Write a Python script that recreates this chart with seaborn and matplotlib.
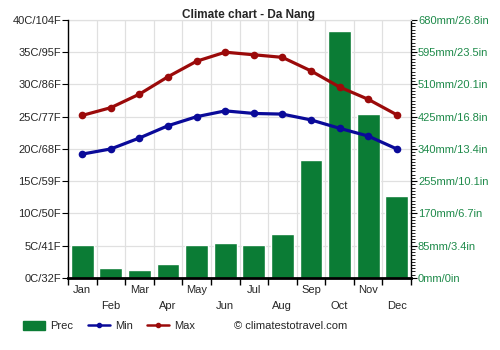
import numpy as np
import pandas as pd
import matplotlib
matplotlib.use("Agg")
import matplotlib.pyplot as plt
from matplotlib.patches import Patch
from matplotlib.lines import Line2D
import seaborn as sns

months = ["Jan", "Feb", "Mar", "Apr", "May", "Jun", "Jul", "Aug", "Sep", "Oct", "Nov", "Dec"]
prec = [88, 26, 20, 36, 86, 91, 86, 115, 310, 650, 431, 215]
tmin = [19.2, 20.0, 21.7, 23.6, 25.0, 25.9, 25.5, 25.4, 24.5, 23.2, 22.0, 20.0]
tmax = [25.2, 26.4, 28.5, 31.2, 33.6, 35.0, 34.6, 34.2, 32.1, 29.6, 27.7, 25.3]
temp_labels = ["0C/32F", "5C/41F", "10C/50F", "15C/59F", "20C/68F", "25C/77F", "30C/86F", "35C/95F", "40C/104F"]
prec_labels = ["0mm/0in", "85mm/3.4in", "170mm/6.7in", "255mm/10.1in", "340mm/13.4in",
               "425mm/16.8in", "510mm/20.1in", "595mm/23.5in", "680mm/26.8in"]

df = pd.DataFrame({"month": months, "idx": np.arange(len(months)), "prec": prec, "tmin": tmin, "tmax": tmax})

sns.set_theme(style="white")
plt.rcParams["font.family"] = ["Liberation Sans", "DejaVu Sans"]

BAR = "#0b7c35"
MAXC = "#9b0a0a"
MINC = "#0a0a99"
GREEN_TXT = "#1e8a4a"
GRID = "#e0e0e0"
FS = 8

fig = plt.figure(figsize=(5, 3.5), dpi=100)
ax_p = fig.add_axes([0.136, 0.206, 0.686, 0.737])
ax_t = ax_p.twinx()

# precipitation bars (behind)
sns.barplot(data=df, x="idx", y="prec", ax=ax_p, color=BAR, saturation=1, width=0.8, zorder=2)
ax_p.set_ylim(0, 680)
ax_p.set_xlim(-0.5, 11.5)
ax_p.yaxis.tick_right()
ax_p.yaxis.set_label_position("right")
ax_p.set_yticks(np.arange(0, 681, 85))
ax_p.set_yticklabels(prec_labels, color=GREEN_TXT, fontsize=FS)
ax_p.set_yticks(np.arange(0, 681, 8.5), minor=True)
ax_p.tick_params(axis="y", which="major", length=4, width=0.8, color="black", pad=1, right=True, left=False)
ax_p.tick_params(axis="y", which="minor", length=3, width=0.6, color="black", right=True, left=False)
ax_p.set_ylabel("")
ax_p.set_xlabel("")

# x ticks: labels at centres, tick marks at boundaries
ax_p.set_xticks(np.arange(12))
ax_p.set_xticklabels([m if i % 2 == 0 else "\n" + m for i, m in enumerate(months)], fontsize=FS)
for lab in ax_p.get_xticklabels():
    lab.set_linespacing(1.75)
ax_p.set_xticks(np.arange(-0.5, 12, 1), minor=True)
ax_p.tick_params(axis="x", which="major", length=0, pad=5)
ax_p.tick_params(axis="x", which="minor", length=5, width=1, color="black", bottom=True)
ax_p.grid(False)

for xb in np.arange(0.5, 11.5, 1):
    ax_p.axvline(xb, color=GRID, linewidth=0.9, zorder=0)
for yv in np.arange(85, 681, 85):
    ax_p.axhline(yv, color=GRID, linewidth=0.9, zorder=0)
ax_p.set_axisbelow(True)

# temperature lines
ax_t.yaxis.tick_left()
ax_t.yaxis.set_label_position("left")
sns.lineplot(data=df, x="idx", y="tmin", ax=ax_t, color=MINC, linewidth=2.3, marker="o",
             markersize=5.5, markeredgewidth=0, zorder=5)
sns.lineplot(data=df, x="idx", y="tmax", ax=ax_t, color=MAXC, linewidth=2.3, marker="o",
             markersize=5.5, markeredgewidth=0, zorder=5)
ax_t.set_ylim(0, 40)
ax_t.set_yticks(np.arange(0, 41, 5))
ax_t.set_yticklabels(temp_labels, fontsize=FS)
ax_t.tick_params(axis="y", which="major", length=4, width=0.8, color="black", pad=1, left=True, right=False)
ax_t.set_ylabel("")
ax_t.set_xlabel("")
ax_t.set_xlim(-0.5, 11.5)
ax_t.grid(False)

for ax in (ax_p, ax_t):
    for s in ax.spines.values():
        s.set_visible(False)
ax_p.spines["bottom"].set_visible(True)
ax_p.spines["bottom"].set_color("black")
ax_p.spines["bottom"].set_linewidth(2)
ax_p.spines["right"].set_visible(True)
ax_p.spines["right"].set_color("black")
ax_p.spines["right"].set_linewidth(1)
ax_t.spines["left"].set_visible(True)
ax_t.spines["left"].set_color("black")
ax_t.spines["left"].set_linewidth(1)
ax_p.spines["top"].set_visible(True)
ax_p.spines["top"].set_color(GRID)
ax_p.spines["top"].set_linewidth(0.9)

fig.text(0.497, 0.957, "Climate chart - Da Nang", fontsize=8.5, fontweight="bold", ha="center", va="center")

handles = [Patch(facecolor=BAR, edgecolor=BAR),
           Line2D([0], [0], color=MINC, linewidth=1.8, marker="o", markersize=3),
           Line2D([0], [0], color=MAXC, linewidth=1.8, marker="o", markersize=3)]
fig.legend(handles, ["Prec", "Min", "Max"], loc="center left", bbox_to_anchor=(0.046, 0.069),
           ncol=3, frameon=False, fontsize=FS, handlelength=2.0, handleheight=0.9,
           columnspacing=1.3, handletextpad=0.45, borderaxespad=0, borderpad=0)
fig.text(0.468, 0.069, "\u00a9 climatestotravel.com", fontsize=FS, va="center", ha="left")

fig.savefig("out.png", dpi=100)
